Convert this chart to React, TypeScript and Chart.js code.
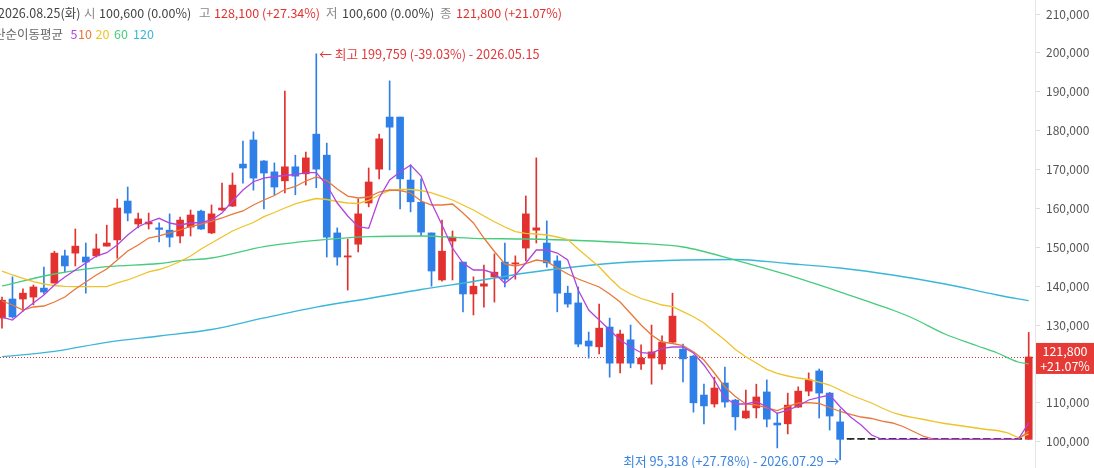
import React, { useEffect, useRef } from 'react';
import { Chart, registerables } from 'chart.js';

Chart.register(...registerables);

const FONT = '"Noto Sans CJK KR", "Noto Sans", sans-serif';

// ---- daily candles (index 0 .. 98), last = 2026.08.25 ----
const opens = [
  131800, 136700, 136700, 137200, 139500, 140800, 147800, 148500, 147500, 147800,
  150300, 151900, 161900, 156000, 156000, 155000, 154400, 152900, 155200, 159300,
  153700, 159600, 160600, 171400, 177600, 172200, 169400, 167100, 170700, 168900,
  179100, 173700, 153700, 147500, 150800, 161400, 170100, 183500, 183500, 167300,
  161600, 153700, 141600, 151600, 146200, 138000, 140000, 142400, 146200, 145700,
  149800, 154400, 151100, 146500, 138200, 135700, 125900, 124400, 129500, 120200,
  126200, 120000, 121500, 120000, 125600, 123800, 122000, 112000, 109700, 115100,
  110700, 106100, 108700, 112800, 104800, 104600, 108900, 113000, 118200, 112500,
  105100, 100600, 100600, 100600, 100600, 100600, 100600, 100600, 100600, 100600,
  100600, 100600, 100600, 100600, 100600, 100600, 100600, 100600, 100600,
];
const highs = [
  137200, 142400, 139300, 140300, 144900, 149000, 149300, 154700, 151100, 153400,
  155700, 162400, 165500, 158800, 158800, 156300, 158600, 157800, 159600, 159600,
  160900, 166500, 169100, 177300, 179700, 172300, 171700, 190200, 173700, 174500,
  199759, 176800, 155000, 152100, 162400, 170400, 179100, 192800, 183500, 171200,
  167600, 153700, 157000, 154200, 146200, 142400, 145400, 148300, 151100, 147800,
  163200, 173000, 156800, 147800, 140000, 139800, 128200, 135400, 131800, 128700,
  130000, 124900, 130000, 127200, 138200, 125100, 122200, 114800, 116600, 119200,
  110900, 113300, 114800, 115900, 107400, 112500, 114100, 117700, 118700, 112700,
  108400, 100600, 100600, 100600, 100600, 100600, 100600, 100600, 100600, 100600,
  100600, 100600, 100600, 100600, 100600, 100600, 100600, 100600, 128100,
];
const lows = [
  129200, 131800, 133600, 135200, 138000, 140800, 143600, 145200, 138200, 147500,
  150300, 147200, 156800, 155000, 154700, 151400, 150100, 151100, 152900, 154600,
  153500, 159500, 160500, 166500, 164700, 159900, 163500, 164000, 163500, 166000,
  165300, 147500, 145400, 139000, 148800, 160400, 167600, 169900, 159900, 159100,
  152900, 140000, 141300, 141600, 133400, 132600, 134600, 135900, 139800, 141800,
  146500, 151100, 144900, 133400, 134600, 124400, 121500, 122600, 116600, 117700,
  119000, 118600, 114800, 118600, 125500, 115400, 107600, 104600, 108900, 108900,
  103000, 106000, 106100, 103800, 98400, 102000, 108800, 111800, 106100, 103000,
  95318, 100600, 100600, 100600, 100600, 100600, 100600, 100600, 100600, 100600,
  100600, 100600, 100600, 100600, 100600, 100600, 100600, 100600, 100600,
];
const closes = [
  136400, 132100, 138200, 139800, 138500, 148500, 145200, 150300, 146200, 149600,
  151100, 160100, 158800, 157300, 156500, 154600, 152600, 157000, 158300, 154700,
  158600, 160100, 166000, 170400, 167800, 169100, 165500, 170700, 168300, 173000,
  170100, 152600, 147500, 147800, 158600, 166800, 177900, 180900, 167600, 161700,
  153900, 143900, 149000, 152600, 138000, 140000, 140600, 143600, 141800, 146000,
  158600, 155000, 146000, 138200, 135400, 125100, 124600, 129200, 120200, 127700,
  120200, 121500, 123100, 125600, 132300, 121300, 110000, 109200, 113800, 110200,
  106400, 107900, 111500, 105800, 104300, 109400, 113000, 115900, 112500, 106600,
  100600, 100600, 100600, 100600, 100600, 100600, 100600, 100600, 100600, 100600,
  100600, 100600, 100600, 100600, 100600, 100600, 100600, 100600, 121800,
];

// ---- moving averages ----
const ma5 = [
  132070, 131300, 133620, 135670, 137730, 140300, 142360, 144160, 145960, 147760,
  148610, 150590, 153160, 155300, 156510, 157460, 156250, 155740, 156250, 156380,
  157020, 158820, 161910, 164740, 166870, 167820, 168210, 168470, 168720, 169190,
  169190, 166020, 161390, 158050, 155300, 154890, 162680, 167310, 169370, 171170,
  168340, 161390, 155740, 149820, 145960, 144160, 144160, 143310, 140740, 142880,
  145960, 149310, 149310, 148530, 146730, 139020, 133870, 131300, 128730, 126160,
  124430, 122890, 122740, 124020, 124360, 124360, 122810, 119730, 115870, 111240,
  109700, 109700, 110290, 109000, 107300, 108150, 109180, 110730, 111420, 112010,
  109000, 106350, 104300, 101720, 100600, 100600, 100600, 100600, 100600, 100600,
  100600, 100600, 100600, 100600, 100600, 100600, 100600, 100600, 104840,
];
const ma10 = [
  136190, 135160, 133870, 134650, 134900, 135930, 137220, 139270, 141080, 142880,
  144420, 146730, 149050, 150590, 152390, 152910, 153680, 154450, 155350, 155990,
  156640, 157540, 158560, 159340, 160880, 162170, 163320, 164870, 165640, 167050,
  168080, 167180, 164990, 163190, 162680, 162940, 164220, 164740, 164610, 163970,
  161910, 160880, 160880, 161140, 158820, 156250, 152390, 148920, 145710, 145190,
  145830, 146730, 146350, 144680, 143130, 141850, 140820, 139790, 137990, 135930,
  132970, 130020, 127440, 125640, 125260, 124740, 123150, 121010, 117670, 114070,
  111630, 109700, 109440, 108670, 108020, 109050, 109950, 110030, 109830, 108800,
  107770, 107000, 106350, 105970, 105320, 104810, 103910, 102620, 101340, 100600,
  100600, 100600, 100600, 100600, 100600, 100600, 100600, 100600, 102720,
];
const ma20 = [
  143900, 142880, 142030, 141150, 140560, 140170, 139970, 139870, 139870, 139870,
  139870, 140820, 141590, 142620, 143650, 144290, 145190, 146350, 147760, 149560,
  151110, 152650, 154190, 155350, 156380, 157870, 158950, 160110, 161140, 161910,
  162550, 162290, 161780, 161390, 161270, 162040, 163450, 164610, 164870, 164870,
  164610, 163970, 163070, 162170, 160880, 159590, 158050, 156580, 155220, 154010,
  153600, 153420, 153160, 152650, 152010, 149560, 147250, 145010, 142100, 139530,
  137990, 136830, 136010, 135160, 134720, 133440, 132150, 130530, 128290, 126160,
  123710, 121860, 120240, 118620, 117590, 116900, 116380, 116000, 115350, 114580,
  113300, 112010, 110980, 109950, 108670, 107510, 106740, 106220, 105710, 105140,
  104680, 104300, 103910, 103520, 103140, 102880, 102240, 101080, 101940,
];
const ma60Days = [0, 5, 10, 15, 17, 20, 25, 30, 35, 40, 45, 50, 55, 60, 65, 70, 75, 80, 85, 87, 90, 93, 95, 97, 98];
const ma60 = [
  140050, 143130, 145010, 145830, 146550, 147250, 150200, 151800, 152730, 152910,
  152320, 152130, 151750, 151110, 150080, 146730, 142880, 138500, 133870, 131690,
  127700, 124740, 122810, 120500, 119990,
];
const ma120Days = [0, 5, 10, 15, 20, 25, 30, 35, 40, 45, 50, 55, 60, 65, 70, 75, 80, 85, 90, 95, 98];
const ma120 = [
  121860, 123250, 125560, 127190, 128860, 131820, 134640, 136830, 139150, 141200,
  143390, 145060, 146220, 146730, 146860, 145830, 144680, 142880, 140560, 137730,
  136270,
];

const highDay = 30;
const highValue = 199759;
const lowDay = 80;
const lowValue = 95318;
const lastClose = 121800;
const highLabel = '← 최고 199,759 (-39.03%) - 2026.05.15';
const lowLabel = '최저 95,318 (+27.78%) - 2026.07.29 →';
const lastLabel = ['121,800', '+21.07%'];

const yMin = 93236;
const yMax = 213606;
const yTicks = [100000, 110000, 120000, 130000, 140000, 150000, 160000, 170000, 180000, 190000, 200000, 210000];

const RED = '#e2312f';
const BLUE = '#2f7fe8';
const FLAT = '#222222';
const MA_COLORS = ['#b045dc', '#e8783a', '#eec32a', '#46cc7c', '#3ab6d8'];

const headerLine1 = [
  { text: '2026.08.25(화)', left: -2, color: '#444' },
  { text: '시', left: 84, color: '#888' },
  { text: '100,600 (0.00%)', left: 99, color: '#444' },
  { text: '고', left: 199, color: '#888' },
  { text: '128,100 (+27.34%)', left: 214, color: RED },
  { text: '저', left: 326, color: '#888' },
  { text: '100,600 (0.00%)', left: 342, color: '#444' },
  { text: '종', left: 440, color: '#888' },
  { text: '121,800 (+21.07%)', left: 456, color: RED },
];
const headerLine2 = [
  { text: '단순이동평균', left: -6, color: '#666' },
  { text: '5', left: 70.5, color: MA_COLORS[0] },
  { text: '10', left: 78, color: MA_COLORS[1] },
  { text: '20', left: 95.5, color: MA_COLORS[2] },
  { text: '60', left: 114, color: MA_COLORS[3] },
  { text: '120', left: 133, color: MA_COLORS[4] },
];

export default function App() {
  const canvasRef = useRef<HTMLCanvasElement | null>(null);

  useEffect(() => {
    if (!canvasRef.current) return;
    const days = closes.map((_, i) => i);
    const candleColor = days.map((i) => {
      if (closes[i] > opens[i]) return RED;
      if (closes[i] < opens[i]) return BLUE;
      return FLAT;
    });

    const marks = {
      id: 'marks',
      beforeDatasetsDraw(chart: any) {
        const { ctx, chartArea, scales } = chart;
        const y = scales.y.getPixelForValue(lastClose);
        ctx.save();
        ctx.strokeStyle = '#d03a3a';
        ctx.lineWidth = 1;
        ctx.setLineDash([1, 2]);
        ctx.beginPath();
        ctx.moveTo(chartArea.left, Math.round(y) + 0.5);
        ctx.lineTo(chartArea.right, Math.round(y) + 0.5);
        ctx.stroke();
        ctx.restore();
      },
      afterDatasetsDraw(chart: any) {
        const { ctx, scales } = chart;
        ctx.save();
        ctx.font = `12.7px ${FONT}`;
        ctx.textBaseline = 'middle';
        ctx.fillStyle = '#e0393c';
        ctx.textAlign = 'left';
        ctx.fillText(highLabel, scales.x.getPixelForValue(highDay) + 3, scales.y.getPixelForValue(highValue) + 0.5);
        ctx.fillStyle = '#3a84e2';
        ctx.textAlign = 'right';
        ctx.fillText(lowLabel, scales.x.getPixelForValue(lowDay) - 1, scales.y.getPixelForValue(lowValue) + 1.5);
        ctx.restore();
      },
      afterDraw(chart: any) {
        const { ctx, chartArea, scales, width } = chart;
        // y-axis tick labels
        ctx.save();
        ctx.font = `12px ${FONT}`;
        ctx.fillStyle = '#555';
        ctx.textAlign = 'left';
        ctx.textBaseline = 'middle';
        yTicks.forEach((v) => {
          ctx.fillText(v.toLocaleString('en-US'), chartArea.right + 11, scales.y.getPixelForValue(v));
        });
        ctx.restore();
        // last price box
        const yc = scales.y.getPixelForValue(lastClose) + 1.5;
        const left = chartArea.right + 1;
        ctx.save();
        ctx.fillStyle = '#e53a36';
        ctx.fillRect(left, yc - 15.5, width - left, 31);
        ctx.fillStyle = '#ffffff';
        ctx.font = `12.5px ${FONT}`;
        ctx.textAlign = 'center';
        ctx.textBaseline = 'middle';
        const cx = left + (width - left) / 2;
        ctx.fillText(lastLabel[0], cx, yc - 7);
        ctx.fillText(lastLabel[1], cx, yc + 7.5);
        ctx.restore();
      },
    };

    const lineDs = (label: string, pts: { x: number; y: number }[], color: string, smooth: boolean) => ({
      type: 'line' as const,
      label,
      data: pts,
      borderColor: color,
      borderWidth: 1.3,
      pointRadius: 0,
      tension: smooth ? 0.4 : 0,
      cubicInterpolationMode: smooth ? ('monotone' as const) : ('default' as const),
      order: 0,
    });

    const chart = new Chart(canvasRef.current, {
      type: 'bar',
      data: {
        datasets: [
          lineDs('5', days.map((i) => ({ x: i, y: ma5[i] })), MA_COLORS[0], false),
          lineDs('10', days.map((i) => ({ x: i, y: ma10[i] })), MA_COLORS[1], false),
          lineDs('20', days.map((i) => ({ x: i, y: ma20[i] })), MA_COLORS[2], false),
          lineDs('60', ma60Days.map((d, k) => ({ x: d, y: ma60[k] })), MA_COLORS[3], true),
          lineDs('120', ma120Days.map((d, k) => ({ x: d, y: ma120[k] })), MA_COLORS[4], true),
          {
            type: 'bar',
            label: 'body',
            data: days.map((i) => ({ x: i, y: [opens[i], closes[i]] })) as any,
            backgroundColor: candleColor,
            barThickness: 7,
            minBarLength: 1,
            grouped: false,
            order: 1,
          } as any,
          {
            type: 'bar',
            label: 'wick',
            data: days.map((i) => ({ x: i, y: [lows[i], highs[i]] })) as any,
            backgroundColor: candleColor,
            barThickness: 1,
            grouped: false,
            order: 2,
          } as any,
        ],
      },
      options: {
        animation: false,
        responsive: true,
        maintainAspectRatio: false,
        layout: { padding: 0 },
        plugins: {
          legend: { display: false },
          tooltip: { enabled: false },
          title: { display: false },
        },
        scales: {
          x: {
            type: 'linear',
            min: -0.19,
            max: 98.6,
            offset: false,
            display: false,
            grid: { display: false },
          },
          y: {
            type: 'linear',
            position: 'right',
            min: yMin,
            max: yMax,
            grid: {
              display: true,
              drawOnChartArea: false,
              drawTicks: true,
              tickLength: 5,
              color: '#dcdcdc',
            },
            border: { display: true, color: '#e6e6e6' },
            ticks: { display: false },
            afterBuildTicks: (s: any) => {
              s.ticks = yTicks.map((v) => ({ value: v }));
            },
            afterFit: (s: any) => {
              s.width = 59;
            },
          },
        },
      } as any,
      plugins: [marks],
    });

    return () => chart.destroy();
  }, []);

  const spanStyle = (left: number, top: number, color: string): React.CSSProperties => ({
    position: 'absolute',
    left,
    top,
    color,
    fontFamily: FONT,
    fontSize: '12.5px',
    lineHeight: '16px',
    whiteSpace: 'nowrap',
  });

  return (
    <div
      style={{
        position: 'fixed',
        left: 0,
        top: 0,
        width: 1094,
        height: 468,
        background: '#ffffff',
        overflow: 'hidden',
      }}
    >
      <canvas ref={canvasRef} style={{ position: 'absolute', left: 0, top: 0 }} />
      {headerLine1.map((h, k) => (
        <span key={'a' + k} style={spanStyle(h.left, 5, h.color)}>
          {h.text}
        </span>
      ))}
      {headerLine2.map((h, k) => (
        <span key={'b' + k} style={spanStyle(h.left, 26, h.color)}>
          {h.text}
        </span>
      ))}
    </div>
  );
}
